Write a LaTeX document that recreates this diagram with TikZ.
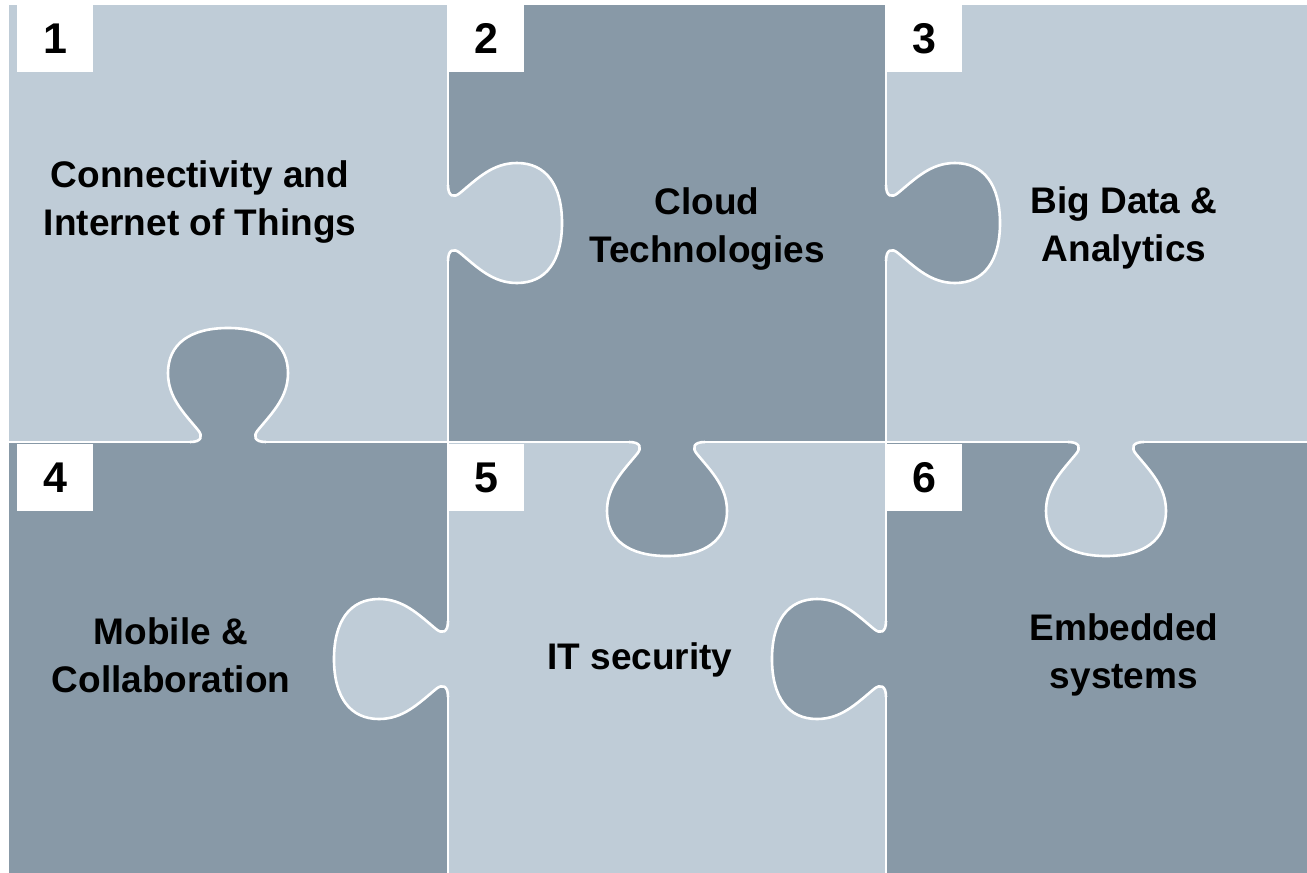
\documentclass[tikz,border=0pt]{standalone}
\usepackage{fontspec}
\setmainfont{Liberation Sans}
\definecolor{lightp}{RGB}{191,204,215}
\definecolor{darkp}{RGB}{136,153,167}
\newcommand\tabpath{(0,-38) .. controls (0,-26) and (6,-25) .. (12,-30)
 .. controls (30,-45) and (45,-60) .. (69,-60)
 .. controls (98,-60) and (114,-38) .. (114,0)
 .. controls (114,38) and (98,60) .. (69,60)
 .. controls (45,60) and (30,45) .. (12,30)
 .. controls (6,25) and (0,26) .. (0,38)}
\begin{document}
\begin{tikzpicture}[x=0.5pt,y=-0.5pt,
  edge/.style={draw=white,line width=1.3pt,line join=round},
  lbl/.style={font=\fontsize{18.5}{24}\selectfont\bfseries,align=center,inner sep=0pt,text=black},
  numbox/.style={fill=white,draw=none,inner sep=0pt,minimum width=38pt,minimum height=33.5pt,
    font=\fontsize{21.5}{24}\selectfont\bfseries,text=black}]
\useasboundingbox (0,0) rectangle (1307,873);
\fill[white] (0,0) rectangle (1307,873);
% cells
\fill[lightp] (9,5) rectangle (448,442);
\fill[darkp] (448,5) rectangle (886,442);
\fill[lightp] (886,5) rectangle (1307,442);
\fill[darkp] (9,442) rectangle (448,873);
\fill[lightp] (448,442) rectangle (886,873);
\fill[darkp] (886,442) rectangle (1307,873);
% tabs
\begin{scope}[shift={(448,223)}]
  \fill[lightp] \tabpath -- (-3,38) -- (-3,-38) -- cycle;
  \draw[edge] \tabpath;
\end{scope}
\begin{scope}[shift={(886,223)}]
  \fill[darkp] \tabpath -- (-3,38) -- (-3,-38) -- cycle;
  \draw[edge] \tabpath;
\end{scope}
\begin{scope}[shift={(228,442)},rotate=90]
  \fill[darkp] \tabpath -- (-3,38) -- (-3,-38) -- cycle;
  \draw[edge] \tabpath;
\end{scope}
\begin{scope}[shift={(667,442)},rotate=-90]
  \fill[darkp] \tabpath -- (-3,38) -- (-3,-38) -- cycle;
  \draw[edge] \tabpath;
\end{scope}
\begin{scope}[shift={(1106,442)},rotate=-90]
  \fill[lightp] \tabpath -- (-3,38) -- (-3,-38) -- cycle;
  \draw[edge] \tabpath;
\end{scope}
\begin{scope}[shift={(448,659)},rotate=180]
  \fill[lightp] \tabpath -- (-3,38) -- (-3,-38) -- cycle;
  \draw[edge] \tabpath;
\end{scope}
\begin{scope}[shift={(886,659)},rotate=180]
  \fill[darkp] \tabpath -- (-3,38) -- (-3,-38) -- cycle;
  \draw[edge] \tabpath;
\end{scope}
% straight edges
\draw[edge] (448,5) -- (448,185) (448,261) -- (448,442);
\draw[edge] (448,442) -- (448,621) (448,697) -- (448,873);
\draw[edge] (886,5) -- (886,185) (886,261) -- (886,442);
\draw[edge] (886,442) -- (886,621) (886,697) -- (886,873);
\draw[edge] (9,442) -- (190,442) (266,442) -- (448,442);
\draw[edge] (448,442) -- (629,442) (705,442) -- (886,442);
\draw[edge] (886,442) -- (1068,442) (1144,442) -- (1307,442);
% number boxes
\node[numbox] (n1) at (55,38.5) {1};
\node[numbox] (n2) at (486,38.5) {2};
\node[numbox] (n3) at (924,38.5) {3};
\node[numbox] (n4) at (55,477.5) {4};
\node[numbox] (n5) at (486,477.5) {5};
\node[numbox] (n6) at (924,477.5) {6};
% labels
\node[lbl] (t1) at (200,202) {Connectivity and\\Internet of Things};
\node[lbl] (t2) at (707,229) {Cloud\\Technologies};
\node[lbl] (t3) at (1124,228) {Big Data \&\\Analytics};
\node[lbl] (t4) at (171,655) {Mobile \&\\Collaboration};
\node[lbl] (t5) at (640,660) {IT security};
\node[lbl] (t6) at (1124,655) {Embedded\\systems};
\end{tikzpicture}
\end{document}
